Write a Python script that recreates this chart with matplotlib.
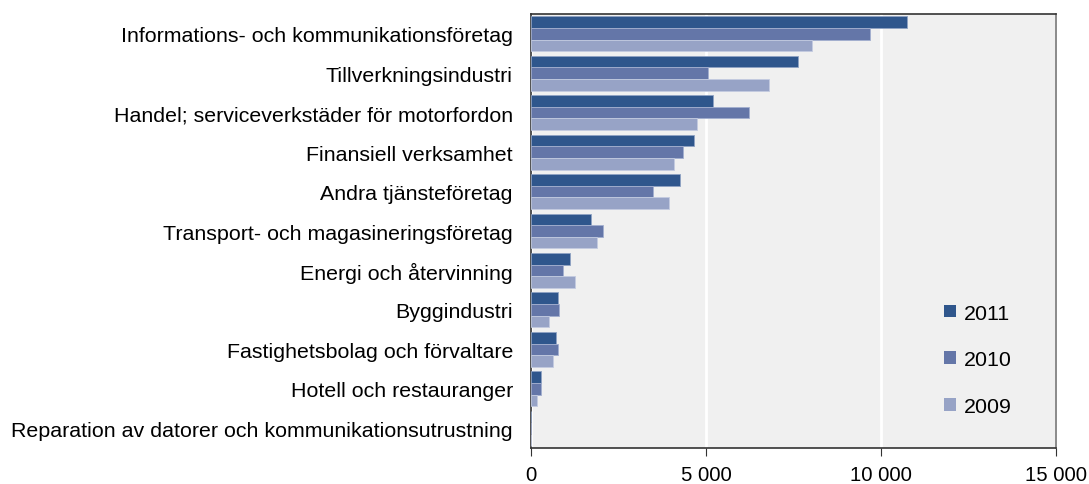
import numpy as np
import matplotlib
matplotlib.use('Agg')
from matplotlib import pyplot as plt
from matplotlib.patches import Patch
from matplotlib.ticker import FuncFormatter

# Branscher, uppifrån och ned
branscher = [
    'Informations- och kommunikationsföretag',
    'Tillverkningsindustri',
    'Handel; serviceverkstäder för motorfordon',
    'Finansiell verksamhet',
    'Andra tjänsteföretag',
    'Transport- och magasineringsföretag',
    'Energi och återvinning',
    'Byggindustri',
    'Fastighetsbolag och förvaltare',
    'Hotell och restauranger',
    'Reparation av datorer och kommunikationsutrustning',
]
v2011 = [10750, 7630, 5200, 4660, 4260, 1710, 1110, 770, 710, 290, 0]
v2010 = [9690, 5060, 6230, 4340, 3490, 2060, 910, 800, 770, 280, 0]
v2009 = [8030, 6800, 4740, 4090, 3940, 1890, 1260, 510, 630, 170, 0]

ar = ['2011', '2010', '2009']
farger = ['#2f568c', '#6476a8', '#97a3c6']
kanter = ['#8fa3c4', '#a3afcf', '#c3cbe0']

plt.rcParams['font.family'] = ['Liberation Sans', 'DejaVu Sans']

fig = plt.figure(figsize=(10.89, 4.85), dpi=100)
ax = fig.add_axes([0.4876, 0.0742, 0.4821, 0.8948])
ax.set_facecolor('#f0f0f0')

y = np.arange(len(branscher))
h = 0.295
for i, vals in enumerate([v2011, v2010, v2009]):
    ax.barh(y + (i - 1) * h, vals, height=h, color=farger[i],
            edgecolor=kanter[i], linewidth=0.6, label=ar[i], zorder=3)

ax.set_xlim(0, 15000)
ax.set_ylim(len(branscher) - 0.5, -0.5)
ax.set_xticks([0, 5000, 10000, 15000])
ax.xaxis.set_major_formatter(FuncFormatter(lambda v, p: f'{int(v):,}'.replace(',', ' ')))
ax.set_yticks(y)
ax.set_yticklabels(branscher)
ax.grid(axis='x', color='white', linewidth=2, zorder=1)

for s in ax.spines.values():
    s.set_color('#333333')
    s.set_linewidth(1.2)
ax.spines['right'].set_color('#777777')

ax.tick_params(axis='y', length=0, pad=13, labelsize=15.4)
ax.tick_params(axis='x', length=6, direction='out', pad=6, labelsize=14.6, color='#333333')

handles = [Patch(facecolor=farger[i], edgecolor='none', label=ar[i]) for i in range(3)]
ax.legend(handles=handles, loc='lower right', bbox_to_anchor=(0.953, 0.029),
          frameon=False, fontsize=15.4, handlelength=0.55, handleheight=0.55,
          labelspacing=1.3, handletextpad=0.4)

plt.savefig('out.png', dpi=100)
